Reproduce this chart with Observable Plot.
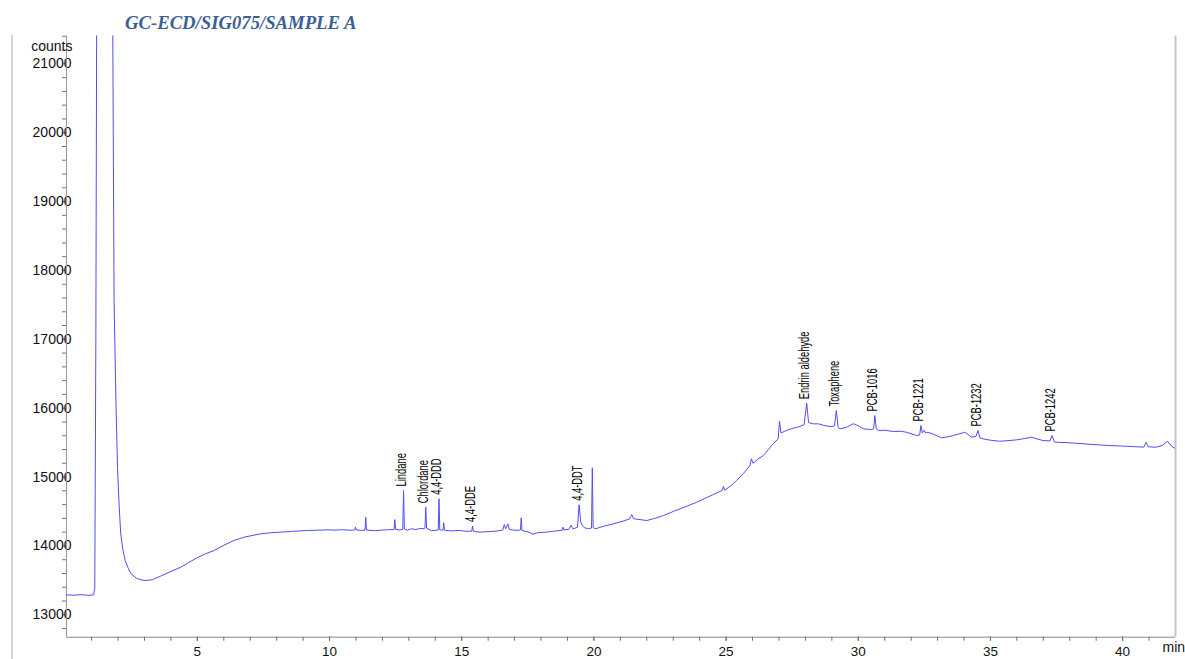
<!DOCTYPE html>
<html><head><meta charset="utf-8">
<script src="https://cdn.jsdelivr.net/npm/d3@7"></script>
<script src="https://cdn.jsdelivr.net/npm/@observablehq/plot@0.6"></script>
<style>
body{margin:0;background:#fff;font-family:"Liberation Sans",Arial,sans-serif;}
#wrap{position:relative;width:1185px;height:659px;overflow:hidden;background:#fff}
#title{height:30px;box-sizing:border-box;padding:14px 0 0 125px;font:italic bold 18.7px/18px "Liberation Serif","Times New Roman",serif;color:#3b5f95;white-space:nowrap}
#edge{position:absolute;left:11px;top:35px;width:2px;height:624px;background:#d4d4d4}
</style></head><body>
<div id="wrap"><div id="title">GC-ECD/SIG075/SAMPLE A</div><div id="chart"></div><div id="edge"></div></div>
<script>
// retention time (min)
const times = [
0.05,0.3,0.6,0.9,1.08,1.12,1.16,1.19,1.5,1.80,1.85,1.92,1.98,2.04,2.10,2.18,2.27,2.38,2.48,2.7,2.9,3.05,3.3,3.6,4.0,4.37,4.7,5.0,5.3,5.63,6.0,6.38,6.8,7.39,7.8,8.15,8.6,9.16,9.5,9.91,10.2,10.5,10.8,
10.95,10.98,11.01,11.2,11.34,11.37,11.40,11.7,12.0,12.2,12.44,12.47,12.50,12.65,12.77,12.80,12.83,12.95,13.1,13.25,13.45,13.58,13.61,13.64,13.67,13.85,
14.11,14.14,14.17,14.29,14.32,14.35,14.6,14.9,15.2,15.38,15.41,15.44,15.7,16.0,16.3,16.55,16.61,16.66,16.75,16.8,17.0,17.22,17.25,17.28,17.5,17.7,17.9,18.2,18.5,
18.8,18.83,18.86,19.05,19.14,19.2,19.38,19.44,19.5,19.56,19.65,19.8,19.91,19.94,19.97,20.05,20.4,20.74,21.1,21.35,21.43,21.5,22.0,22.3,22.63,23.0,23.26,23.6,23.89,
24.2,24.52,24.85,24.90,24.95,25.2,25.40,25.65,25.90,25.96,26.02,26.2,26.41,26.6,26.78,26.97,27.02,27.08,27.3,27.54,27.75,27.95,28.05,28.12,28.30,28.49,28.7,28.93,
29.1,29.17,29.24,29.31,29.56,29.81,30.0,30.19,30.5,30.58,30.63,30.68,30.76,31.0,31.33,31.6,31.82,32.0,32.20,32.32,32.37,32.42,32.49,32.55,32.64,32.83,33.0,33.15,
33.4,33.59,33.8,34.03,34.15,34.28,34.45,34.53,34.6,34.72,35.0,35.35,35.7,35.98,36.3,36.55,36.8,36.99,37.25,37.33,37.42,37.5,37.9,38.25,38.8,39.2,39.5,40.0,40.5,
40.8,40.89,40.97,41.27,41.5,41.7,41.85,42.0
];
// detector response (counts)
const counts = [
13290,13285,13292,13283,13290,13400,17000,21500,30000,21500,17567,16100,15138,14600,14180,13950,13788,13680,13600,13530,13505,13498,13510,13560,13630,13691,13765,13830,13885,13933,14010,14079,14130,14176,14192,14200,14212,14224,14228,14234,14230,14236,14228,
14232,14272,14232,14226,14228,14417,14230,14222,14230,14236,14238,14383,14240,14232,14240,14805,14245,14228,14250,14238,14255,14250,14262,14562,14258,14222,
14230,14684,14232,14230,14336,14228,14218,14225,14212,14215,14290,14210,14200,14208,14215,14230,14310,14250,14320,14240,14228,14230,14408,14225,14205,14170,14195,14200,14215,
14228,14272,14235,14240,14300,14248,14270,14597,14350,14300,14262,14252,14260,15134,14270,14248,14290,14321,14360,14392,14456,14395,14369,14400,14442,14500,14539,14590,14635,
14690,14747,14805,14863,14810,14880,14950,15050,15168,15265,15200,15260,15313,15400,15483,15555,15811,15640,15680,15710,15730,15760,16072,15790,15773,15773,15750,15734,
15740,15966,15720,15700,15723,15775,15745,15700,15690,15700,15893,15700,15676,15680,15661,15665,15651,15630,15603,15610,15748,15640,15680,15640,15651,15625,15595,15570,
15585,15603,15625,15651,15620,15579,15590,15676,15570,15555,15535,15520,15530,15540,15560,15579,15550,15530,15525,15603,15510,15505,15500,15491,15475,15465,15458,15450,15440,
15435,15505,15440,15433,15460,15520,15450,15410
];
// annotated peaks
const peakNames = ["Lindane","Chlordane","4,4-DDD","4,4-DDE","4,4-DDT","Endrin aldehyde","Toxaphene","PCB-1016","PCB-1221","PCB-1232","PCB-1242"];
const peakTimes = [12.80,13.64,14.14,15.41,19.44,28.05,29.17,30.63,32.37,34.53,37.33];
const peakCounts = [14805,14562,14684,14290,14597,16072,15966,15893,15748,15676,15603];
// axes
const xDomain = [0.05, 42];
const yDomain = [12675, 21404];
const xTickLabels = [5,10,15,20,25,30,35,40];
const xMinorTicks = d3.range(1, 42, 1);
const yTickLabels = [13000,14000,15000,16000,17000,18000,19000,20000,21000];
const yMinorTicks = d3.range(12800, 21401, 200);

const data = times.map((t, i) => ({t, c: counts[i]}));

const chart = Plot.plot({
  width: 1185, height: 629,
  marginLeft: 66, marginRight: 10, marginTop: 5.5, marginBottom: 22.3,
  x: {domain: xDomain, axis: null},
  y: {domain: yDomain, axis: null},
  style: {fontFamily: "'Liberation Sans', Arial, sans-serif", fontSize: "14px", color: "#111", background: "white"},
  marks: [
    Plot.axisX(xMinorTicks, {tickSize: 4, tickFormat: () => "", stroke: "#666", label: null}),
    Plot.axisX(xTickLabels, {tickSize: 4, tickPadding: 5, fontSize: 13.5, fill: "#111", stroke: "#666", label: null, tickFormat: d3.format("d")}),
    Plot.axisY(yMinorTicks, {tickSize: 4, tickFormat: () => "", stroke: "#777", label: null}),
    Plot.axisY(yTickLabels, {tickSize: 0, tickPadding: -5, fontSize: 14, fill: "#111", label: null, tickFormat: d3.format("d")}),
    Plot.ruleX([xDomain[0]], {stroke: "#999"}),
    Plot.ruleX([xDomain[1]], {stroke: "#c4c4c4", strokeWidth: 2}),
    Plot.ruleY([yDomain[0]], {stroke: "#888"}),
    Plot.line(data, {x: "t", y: "c", stroke: "#4f4ff0", strokeWidth: 1, clip: true}),
    Plot.text(peakNames, {x: (d, i) => peakTimes[i], y: (d, i) => peakCounts[i], rotate: -90, textAnchor: "start", lineAnchor: "middle", dy: -4, dx: -2, fontSize: 14, fill: "#000"}),
    Plot.text(["counts"], {frameAnchor: "top-left", textAnchor: "end", dx: 6, dy: 5.5, fontSize: 14, fill: "#111"}),
    Plot.text(["min"], {frameAnchor: "bottom-right", textAnchor: "start", dx: -13, dy: 14.5, fontSize: 14, fill: "#111"})
  ]
});
document.getElementById("chart").append(chart);
// peak labels are printed in a condensed face: squeeze them along their reading direction
chart.querySelectorAll("text").forEach(t => {
  if (peakNames.includes(t.textContent)) {
    const tr = t.getAttribute("transform") || "";
    t.setAttribute("transform", tr + " scale(0.67,1)");
  }
});
</script>
</body></html>
